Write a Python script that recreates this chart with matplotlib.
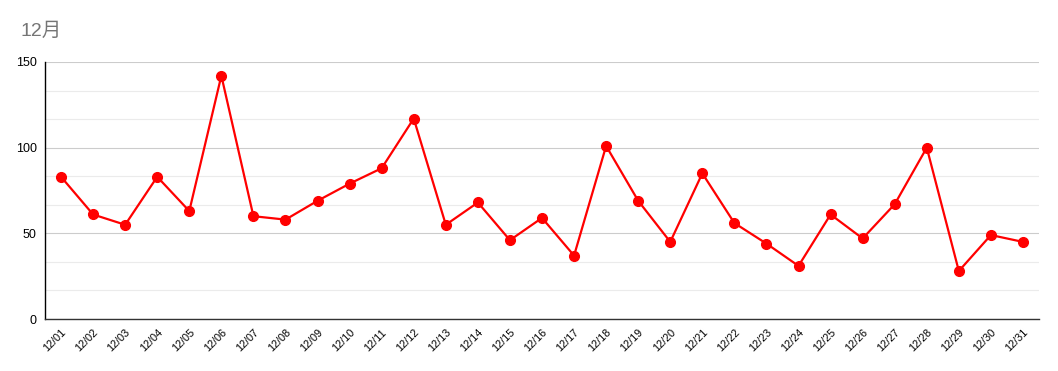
import matplotlib
matplotlib.use("Agg")
import matplotlib.pyplot as plt
from matplotlib.ticker import MultipleLocator

plt.rcParams['font.family'] = ['Liberation Sans', 'Noto Sans CJK JP', 'DejaVu Sans']

labels = [f"12/{d:02d}" for d in range(1, 32)]
values = [83, 61, 55, 83, 63, 142, 60, 58, 69, 79, 88, 117, 55, 68, 46, 59, 37,
          101, 69, 45, 85, 56, 44, 31, 61, 47, 67, 100, 28, 49, 45]
title = "12月"

W, H = 1058, 371
fig = plt.figure(figsize=(W / 100, H / 100), dpi=100)
ax = fig.add_axes([45 / W, 1 - 319 / H, (1039 - 45) / W, (319 - 62) / H])

x = list(range(len(values)))
ax.plot(x, values, color="#ff0000", lw=1.6, marker="o", ms=7, zorder=3)

ax.set_xlim(-0.5, len(values) - 0.5)
ax.set_ylim(0, 150)
ax.yaxis.set_major_locator(MultipleLocator(50))
ax.yaxis.set_minor_locator(MultipleLocator(50 / 3))
ax.grid(True, which="major", axis="y", color="#cccccc", lw=0.8)
ax.grid(True, which="minor", axis="y", color="#ebebeb", lw=0.8)
ax.set_axisbelow(True)

ax.set_xticks(x)
ax.set_xticklabels(labels, rotation=45, ha="right", rotation_mode="anchor", fontsize=7.8)
ax.tick_params(axis="x", length=0, pad=6)
ax.tick_params(axis="y", which="both", length=0, labelsize=9, pad=6)

for s in ["top", "right"]:
    ax.spines[s].set_visible(False)
ax.spines["left"].set_color("#000000")
ax.spines["left"].set_linewidth(1)
ax.spines["bottom"].set_color("#333333")
ax.spines["bottom"].set_linewidth(1)

fig.text(20 / W, 1 - 31 / H, title, fontsize=14, color="#757575", va="center", ha="left")

fig.savefig("out.png", dpi=100)
